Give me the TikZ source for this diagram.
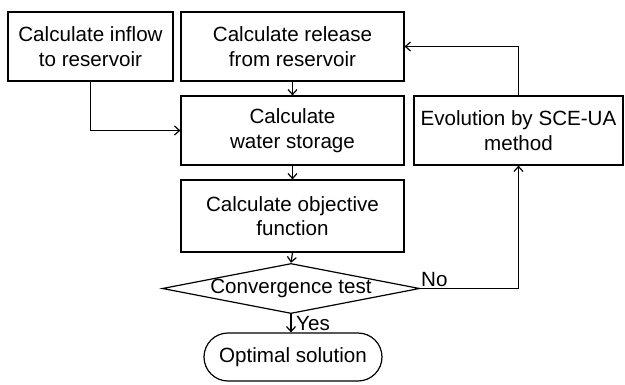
\documentclass[tikz,border=0pt]{standalone}
\usepackage{fontspec}
\setmainfont{Liberation Sans}
\usetikzlibrary{arrows.meta,shapes.geometric,shapes.misc}
\begin{document}
\begin{tikzpicture}[x=1pt,y=-1pt,
  every node/.style={font=\fontsize{20.6}{24.5}\selectfont},
  box/.style={draw, line width=1.2pt, rectangle, inner sep=0pt, align=center},
  arr/.style={-{Straight Barb[length=5pt,width=9pt]}, line width=1.2pt},
  lbl/.style={inner sep=0pt}]
\useasboundingbox (0,0) rectangle (625,384);
\node[box, minimum width=165pt, minimum height=69pt] (inflow) at (90.5,46.5) {Calculate inflow\\to reservoir};
\node[box, minimum width=223pt, minimum height=69pt] (release) at (292.5,46.5) {Calculate release\\from reservoir};
\node[box, minimum width=223pt, minimum height=69pt] (storage) at (292.5,130.5) {Calculate\\water storage};
\node[box, minimum width=223pt, minimum height=72pt] (objective) at (292.5,216) {Calculate objective\\function};
\node[box, minimum width=209pt, minimum height=69pt] (evol) at (518.5,130.5) {Evolution by SCE-UA\\method};
\node[box, shape=diamond, aspect=5.14, minimum width=252pt, minimum height=49pt] (conv) at (291,288.5) {Convergence test};
\node[box, shape=rounded rectangle, minimum width=178pt, minimum height=48pt] (opt) at (293,357) {Optimal solution};
\draw[arr] (inflow.south) |- (storage.west);
\draw[arr] (release) -- (storage);
\draw[arr] (storage) -- (objective);
\draw[arr] (objective.south) -- (conv.north);
\draw[arr] (conv.south) -- (opt.north -| conv.south);
\draw[arr] (conv.east) -| (evol.south);
\draw[arr] (evol.north) |- (release.east);
\node[lbl, anchor=base west] (no) at (421,286) {No};
\node[lbl, anchor=base west] (yes) at (296,330) {Yes};
\end{tikzpicture}
\end{document}
